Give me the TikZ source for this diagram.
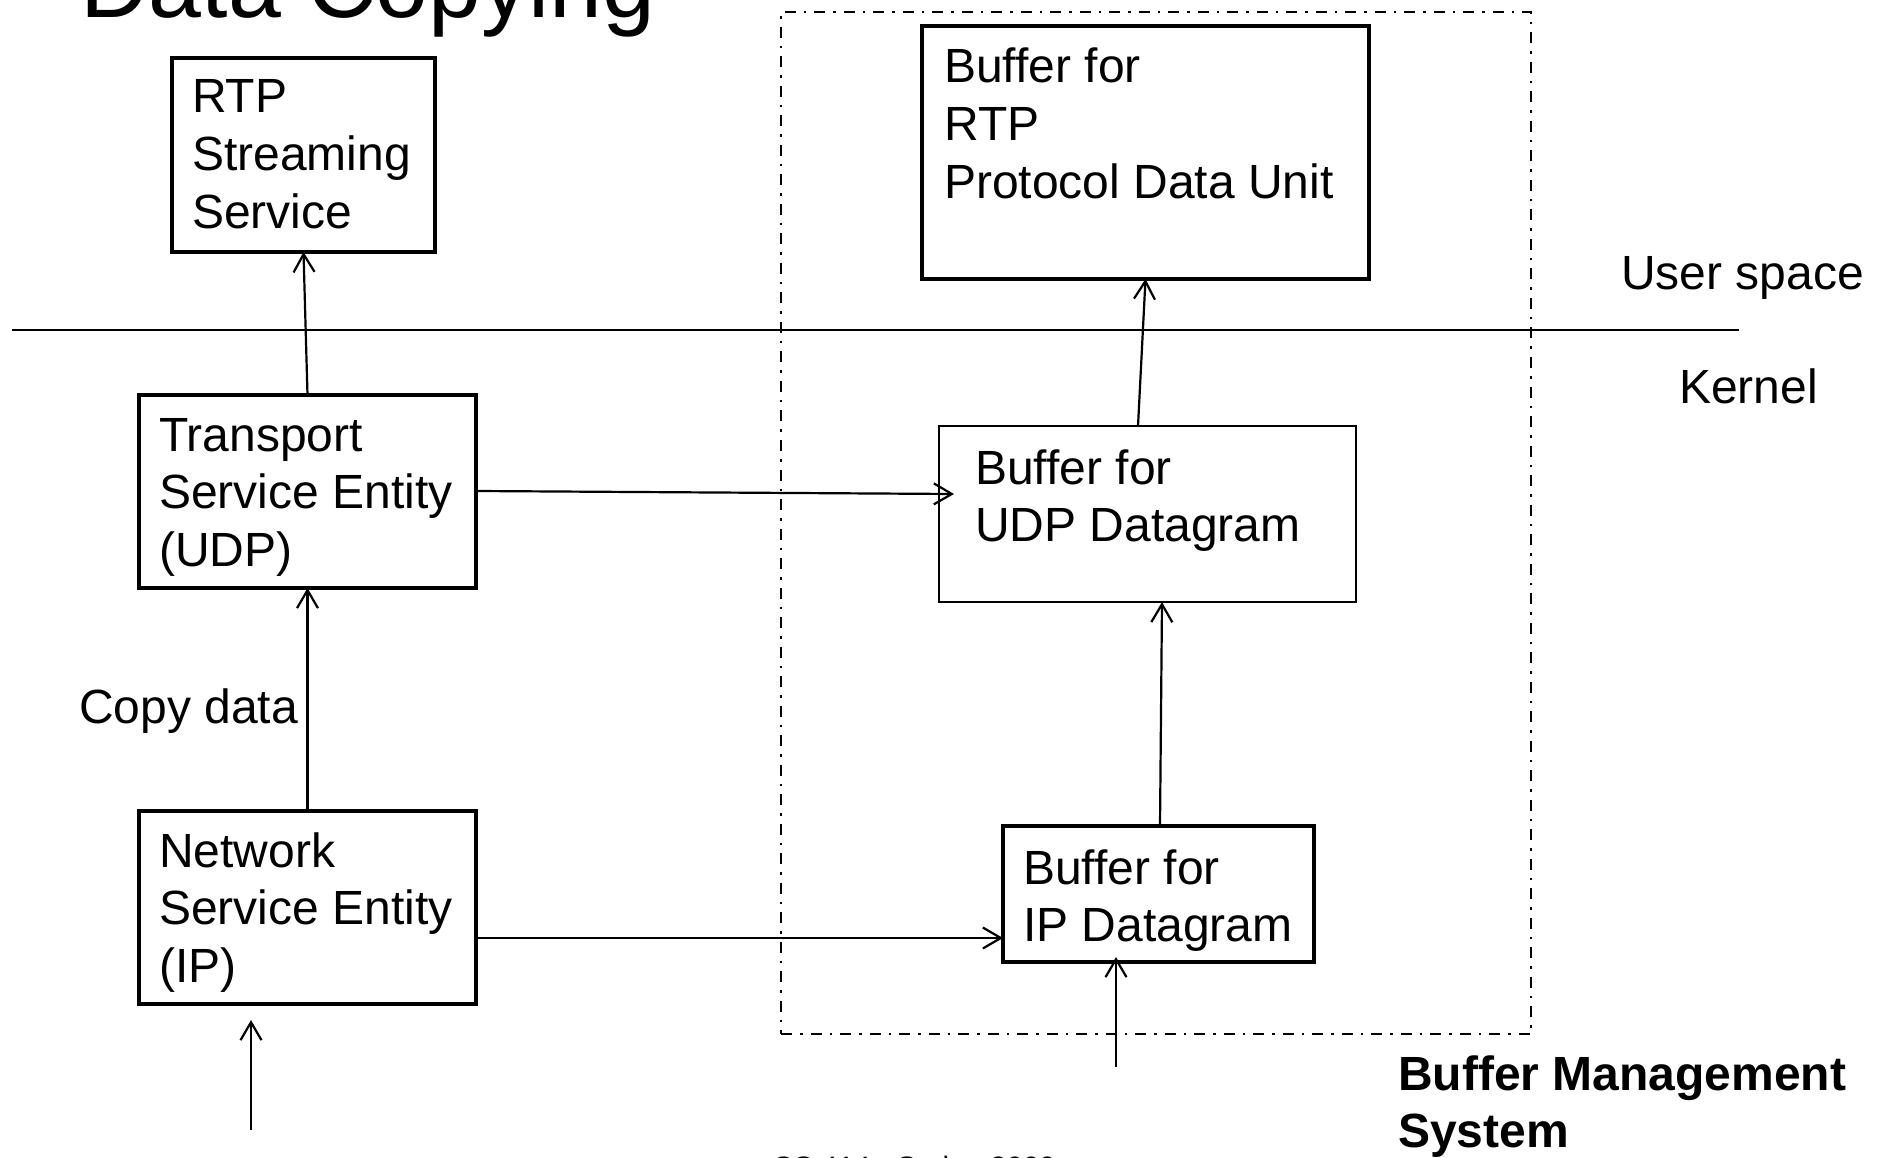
\documentclass[tikz,border=0pt]{standalone}
\usepackage{fontspec}
\setmainfont{Liberation Sans}
\usetikzlibrary{arrows.meta,calc}
\newcommand{\mlines}[1]{\begin{tabular}[t]{@{}l@{}}#1\end{tabular}}
\begin{document}
\begin{tikzpicture}[x=1pt,y=-1pt,
  thickbox/.style={draw, line width=4pt, inner sep=0pt, outer sep=0pt, anchor=north west},
  thinbox/.style={draw, line width=2pt, inner sep=0pt, outer sep=0pt, anchor=north west},
  txt/.style={inner sep=0pt, anchor=base west, font=\fontsize{48}{57.6}\selectfont},
  conn/.style={line width=2.2pt, -{Straight Barb[length=18pt,width=21pt]}},
  dashdot/.style={draw, line width=2.2pt, dash pattern=on 11pt off 8pt on 2.5pt off 8pt, inner sep=0pt, outer sep=0pt, anchor=north west}
  ]
\useasboundingbox (0,0) rectangle (1883,1158);
\clip (0,0) rectangle (1883,1158);

% title and footer (cut by the page edge)
\node[inner sep=0pt, anchor=base west, font=\fontsize{95}{114}\selectfont] (title) at (80,18) {Data Copying};
\node[inner sep=0pt, anchor=base west, font=\fontsize{29.5}{35}\selectfont] (foot) at (772,1177) {CS 414 - Spring 2009};

% buffer management system region
\node[dashdot, minimum width=750pt, minimum height=1022pt] (bms) at (781,12) {};

% user/kernel separator
\coordinate (hl-l) at (12,330);
\coordinate (hl-r) at (1739,330);
\draw[line width=2.2pt] (hl-l) -- (hl-r);

% boxes
\node[thickbox, minimum width=263pt, minimum height=194pt] (rs) at (172,58) {};
\node[thickbox, minimum width=337pt, minimum height=193pt] (ts) at (139,395) {};
\node[thickbox, minimum width=337pt, minimum height=193pt] (ns) at (139,811) {};
\node[thickbox, minimum width=447pt, minimum height=253pt] (rb) at (922,26) {};
\node[thinbox,  minimum width=417pt, minimum height=176pt] (ub) at (939,426) {};
\node[thickbox, minimum width=311pt, minimum height=136pt] (ib) at (1003,826) {};

% box texts
\node[txt] (rs-t) at (192,113) {\mlines{RTP\\Streaming\\Service}};
\node[txt] (ts-t) at (159,451) {\mlines{Transport\\Service Entity\\(UDP)}};
\node[txt] (ns-t) at (159,867) {\mlines{Network\\Service Entity\\(IP)}};
\node[txt] (rb-t) at (944,83) {\mlines{Buffer for\\RTP\\Protocol Data Unit}};
\node[txt] (ub-t) at (975,484) {\mlines{Buffer for\\UDP Datagram}};
\node[txt] (ib-t) at (1023,884) {\mlines{Buffer for\\IP Datagram}};

% free labels
\node[txt] (copy) at (79,723) {Copy data};
\node[txt] (user) at (1621,290) {User space};
\node[txt] (kern) at (1679,403) {Kernel};
\node[txt, font=\fontsize{48}{57.6}\selectfont\bfseries] (bmst) at (1398,1090) {\mlines{Buffer Management\\System}};

% connectors
\draw[conn] (ts.north) -- (rs.south);
\draw[conn] (ns.north) -- (ts.south);
\draw[conn] ($(ts.north east)+(0,96)$) -- ($(ub.north west)+(15,68)$);
\draw[conn] ($(ns.north east)+(0,127)$) -- ($(ib.north west)+(0,112)$);
\draw[conn] ($(ib.north west)+(157,0)$) -- ($(ub.south west)+(223,0)$);
\draw[conn] ($(ub.north west)+(199,0)$) -- (rb.south);
\coordinate (in1) at (251,1130);
\draw[conn] (in1) -- ($(ns.south west)+(112,16)$);
\coordinate (in2) at (1116,1067);
\draw[conn] (in2) -- ($(ib.south west)+(113,-5)$);
\end{tikzpicture}
\end{document}
